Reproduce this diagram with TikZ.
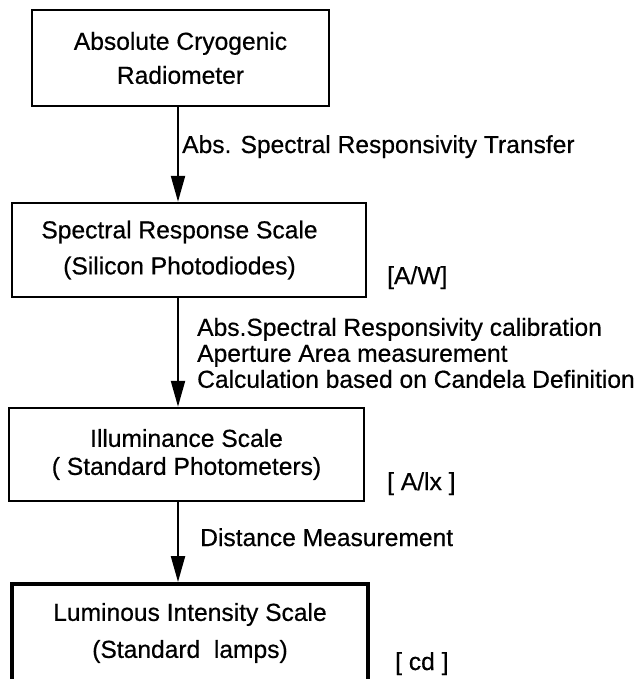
\documentclass[tikz,border=0pt]{standalone}
\usepackage{fontspec}
\setmainfont[FakeBold=0.5]{Liberation Sans}
\usetikzlibrary{arrows.meta}
\begin{document}
\begin{tikzpicture}[x=1pt,y=-1pt,
  box/.style={draw, line width=2.5pt, inner sep=0pt, align=center,
    font=\fontsize{24.6}{28}\selectfont},
  lbl/.style={inner sep=0pt, font=\fontsize{24.6}{26}\selectfont},
  arr/.style={line width=2.2pt, -{Triangle[length=26pt,width=14pt]}}]
\useasboundingbox[fill=white] (0,0) rectangle (642,679);
\coordinate (ax) at (178,0);
\node[box, minimum width=297pt, minimum height=96pt] (b1) at (180.5,58)
  {Absolute Cryogenic\\[6pt]Radiometer};
\node[box, minimum width=354pt, minimum height=94pt] (b2) at (189,250)
  {Spectral Response Scale\rule{19pt}{0pt}\\[8pt](Silicon Photodiodes)\rule{19pt}{0pt}};
\node[box, minimum width=355pt, minimum height=93pt] (b3) at (186.5,454.5)
  {Illuminance Scale\\( Standard Photometers)};
\node[box, line width=4pt, minimum width=356pt, minimum height=98pt] (b4) at (190,633)
  {Luminous Intensity Scale\\[9pt](Standard\ \ lamps)};
\draw[arr] (b1.south -| ax) -- (b2.north -| ax);
\draw[arr] (b2.south -| ax) -- (b3.north -| ax);
\draw[arr] (b3.south -| ax) -- (b4.north -| ax);
\node[lbl, anchor=base west] (l1) at (182,153) {Abs. Spectral Responsivity Transfer};
\node[lbl, anchor=west, align=left] (l2) at (197,353)
  {Abs.Spectral Responsivity calibration\\Aperture Area measurement\\Calculation based on Candela Definition};
\node[lbl, anchor=base west] (l3) at (200,546) {Distance Measurement};
\node[lbl, anchor=base west] (u1) at (387,284) {[A/W]};
\node[lbl, anchor=base west] (u2) at (387,490) {[ A/lx ]};
\node[lbl, anchor=base west] (u3) at (395,670) {[ cd ]};
\end{tikzpicture}
\end{document}
